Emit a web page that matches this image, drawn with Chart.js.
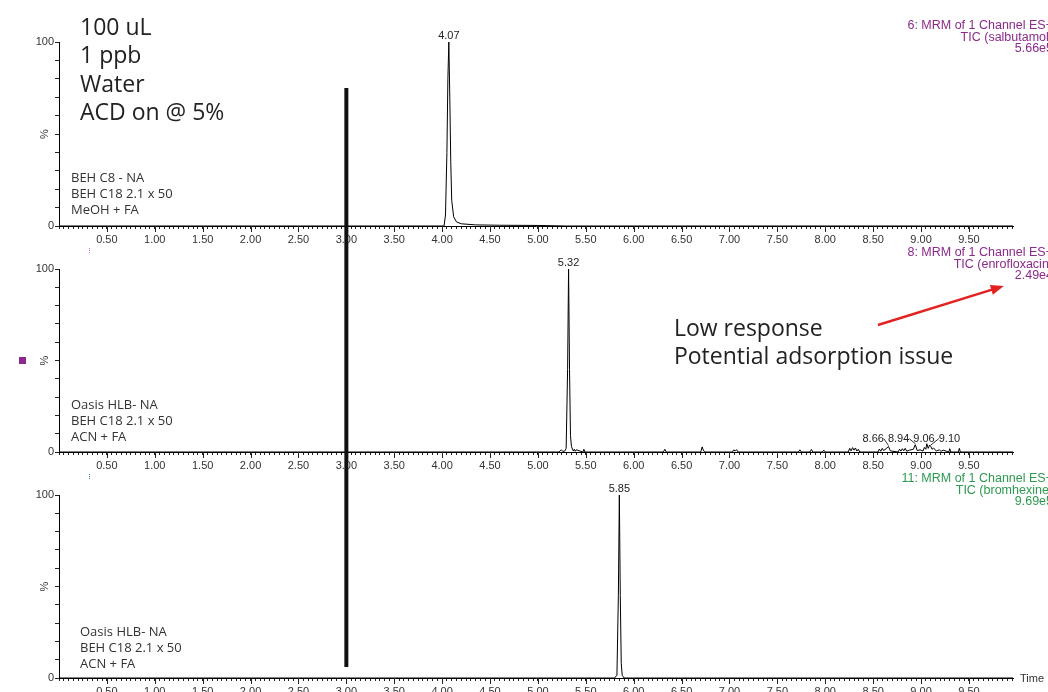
<!DOCTYPE html>
<html>
<head>
<meta charset="utf-8">
<script src="https://cdn.jsdelivr.net/npm/chart.js@4"></script>
<style>
  body { margin: 0; background: #fff; }
  #wrap { position: relative; width: 1048px; height: 692px; overflow: hidden; }
  #wrap canvas { position: absolute; left: 0; top: 0; }
</style>
</head>
<body>
<div id="wrap">
  <canvas id="panel1" width="1048" height="720"></canvas>
  <canvas id="panel2" width="1048" height="720"></canvas>
  <canvas id="panel3" width="1048" height="720"></canvas>
</div>
<script>
// retention time (min) / relative intensity (%)
const timeMax = 9.96
const markerTime = 3.0

const times1 = [0, 4.02, 4.035, 4.05, 4.06, 4.07, 4.08, 4.09, 4.10, 4.12, 4.15, 4.20, 4.35, 4.60, 5.00, 5.30, 9.96]
const signal1 = [0, 0, 6, 40, 80, 100, 70, 35, 14, 5, 2.2, 1.2, 0.6, 0.4, 0.3, 0, 0]

const times2 = [
  0, 5.22, 5.245, 5.26, 5.28, 5.295, 5.31, 5.32, 5.33, 5.34,
  5.35, 5.37, 5.38, 5.39, 5.40, 5.47, 5.48, 5.49, 6.31, 6.325,
  6.34, 6.70, 6.715, 6.725, 6.74, 7.03, 7.045, 7.06, 7.075, 7.09,
  7.72, 7.735, 7.75, 7.84, 7.855, 7.87, 7.97, 7.985, 8.00, 8.24,
  8.255, 8.27, 8.285, 8.30, 8.315, 8.33, 8.345, 8.36, 8.55, 8.565,
  8.58, 8.595, 8.61, 8.635, 8.66, 8.68, 8.76, 8.775, 8.79, 8.805,
  8.82, 8.835, 8.85, 8.88, 8.92, 8.94, 8.96, 8.99, 9.02, 9.035,
  9.05, 9.06, 9.075, 9.09, 9.10, 9.115, 9.13, 9.16, 9.19, 9.21,
  9.23, 9.29, 9.30, 9.31, 9.39, 9.40, 9.41, 9.96
]
const signal2 = [
  0, 0, 1.2, 0.3, 0.5, 2, 45, 100, 45, 9,
  3, 0.5, 1.5, 0.4, 1.2, 0, 1.5, 0, 0, 1.5,
  0, 0, 2.8, 1.2, 0, 0, 1.2, 0.5, 1.3, 0,
  0, 1.2, 0, 0, 1.4, 0, 0, 1.0, 0, 0,
  2.0, 0.6, 2.4, 1.0, 2.2, 0.5, 1.5, 0, 0, 1.6,
  0.4, 2.0, 0.8, 1.8, 3.0, 0.6, 0, 1.5, 0.5, 1.8,
  0.7, 2.0, 0.4, 1.0, 1.5, 4.0, 0.8, 1.2, 0.5, 2.5,
  1.5, 4.5, 2.0, 3.8, 3.2, 1.5, 2.2, 0.5, 1.2, 0.3,
  1.0, 0, 1.8, 0, 0, 2.0, 0, 0
]

const times3 = [0, 5.80, 5.825, 5.84, 5.85, 5.86, 5.87, 5.88, 5.90, 9.96]
const signal3 = [0, 0, 1.5, 45, 100, 45, 8, 1.5, 0, 0]

const peaks1 = [4.07]
const peaks2 = [5.32]
const noisePeaks2 = [8.66, 8.94, 9.06, 9.10]
const peaks3 = [5.85]

const channel1 = ['6: MRM of 1 Channel ES+', 'TIC (salbutamol)', '5.66e5']
const channel2 = ['8: MRM of 1 Channel ES+', 'TIC (enrofloxacin)', '2.49e4']
const channel3 = ['11: MRM of 1 Channel ES+', 'TIC (bromhexine)', '9.69e5']

const column1 = ['BEH C8 - NA', 'BEH C18 2.1 x 50', 'MeOH + FA']
const column2 = ['Oasis HLB- NA', 'BEH C18 2.1 x 50', 'ACN + FA']
const column3 = ['Oasis HLB- NA', 'BEH C18 2.1 x 50', 'ACN + FA']

const sampleNotes = ['100 uL', '1 ppb', 'Water', 'ACD on @ 5%']
const issueNotes = ['Low response', 'Potential adsorption issue']

const purple = '#8c2a8c'
const green = '#2e9a50'
const axisFont = '"Liberation Sans", Arial, sans-serif'
const noteFont = '"Open Sans", sans-serif'

const panels = []

const valueAt = (times, signal, t) => signal[times.indexOf(t)]

const drawLine = (ctx, x1, y1, x2, y2) => {
    ctx.beginPath()
    ctx.moveTo(x1, y1)
    ctx.lineTo(x2, y2)
    ctx.stroke()
}

const decor = (cfg) => ({
    id: 'decor',
    afterDraw(chart) {
        const { ctx, chartArea } = chart
        const x = chart.scales.x
        const y = chart.scales.y
        ctx.save()

        // longer ticks at every labelled half minute
        ctx.strokeStyle = '#222'
        ctx.lineWidth = 1
        for (let k = 1; k * 0.5 < timeMax; k++) {
            const px = Math.round(x.getPixelForValue(k * 0.5)) + 0.5
            drawLine(ctx, px, chartArea.bottom, px, chartArea.bottom + 6)
        }

        // rotated % on the y axis
        ctx.save()
        ctx.translate(chartArea.left - 14, y.getPixelForValue(50))
        ctx.rotate(-Math.PI / 2)
        ctx.fillStyle = '#333'
        ctx.font = '11px ' + axisFont
        ctx.textAlign = 'center'
        ctx.textBaseline = 'middle'
        ctx.fillText('%', 0, 0)
        ctx.restore()

        // apex labels
        ctx.fillStyle = '#222'
        ctx.font = '11px ' + axisFont
        ctx.textAlign = 'center'
        ctx.textBaseline = 'alphabetic'
        cfg.peaks.forEach(t => {
            const v = valueAt(cfg.times, cfg.signal, t)
            ctx.fillText(t.toFixed(2), x.getPixelForValue(t), y.getPixelForValue(v) - 3)
        })

        // channel header, right aligned and running off the page
        ctx.fillStyle = cfg.color
        ctx.font = '12.5px ' + axisFont
        ctx.textAlign = 'right'
        ctx.textBaseline = 'middle'
        cfg.channel.forEach((s, i) => {
            ctx.fillText(s, chartArea.right + 40, chartArea.top - 16 + i * 11.5)
        })

        // column / mobile phase
        ctx.fillStyle = '#333'
        ctx.font = '13px ' + noteFont
        ctx.textAlign = 'left'
        cfg.column.forEach((s, i) => {
            ctx.fillText(s, chartArea.left + cfg.columnIndent, chartArea.bottom - cfg.columnLift + i * 16)
        })

        // small channel mark under the axis
        if (cfg.markColor) {
            ctx.strokeStyle = cfg.markColor
            ctx.setLineDash([1, 1])
            const px = Math.round(x.getPixelForValue(0.31)) + 0.5
            drawLine(ctx, px, chartArea.bottom + 22, px, chartArea.bottom + 28)
            ctx.setLineDash([])
        }

        if (cfg.extra) cfg.extra(chart)
        ctx.restore()
    }
})

const makePanel = (canvasId, cfg) => {
    const ctx = document.getElementById(canvasId).getContext('2d')
    const chart = new Chart(ctx, {
        type: 'line',
        data: {
            datasets: [{
                data: cfg.times.map((t, i) => ({ x: t, y: cfg.signal[i] })),
                borderColor: '#000',
                borderWidth: 1,
                pointRadius: 0,
                tension: 0,
                clip: false
            }]
        },
        options: {
            responsive: false,
            animation: false,
            events: [],
            layout: { padding: { left: 19, right: 35, top: cfg.top, bottom: cfg.bottom } },
            plugins: { legend: { display: false }, tooltip: { enabled: false } },
            scales: {
                x: {
                    type: 'linear',
                    min: 0,
                    max: timeMax,
                    afterFit: s => { s.height = 25 },
                    afterBuildTicks: s => {
                        const list = []
                        for (let k = 0; k * 0.05 <= timeMax; k++) list.push({ value: +(k * 0.05).toFixed(2) })
                        s.ticks = list
                    },
                    grid: { drawOnChartArea: false, tickLength: 3, color: '#222' },
                    border: { color: '#000' },
                    ticks: {
                        autoSkip: false,
                        maxRotation: 0,
                        padding: 4,
                        color: '#333',
                        font: { family: axisFont, size: 11 },
                        callback: v => (v > 0 && Math.abs(v * 2 - Math.round(v * 2)) < 1e-6) ? v.toFixed(2) : ''
                    }
                },
                y: {
                    min: 0,
                    max: 100,
                    afterFit: s => { s.width = 40 },
                    grid: { drawOnChartArea: false, tickLength: 4, color: '#222' },
                    border: { color: '#000' },
                    ticks: {
                        stepSize: 10,
                        padding: 1,
                        color: '#333',
                        font: { family: axisFont, size: 11 },
                        callback: v => (v === 100 || v === 0) ? String(v) : ''
                    }
                }
            }
        },
        plugins: [decor(cfg)]
    })
    panels.push(chart)
    return chart
}

makePanel('panel1', {
    times: times1, signal: signal1, peaks: peaks1,
    channel: channel1, color: purple, column: column1,
    columnIndent: 12, columnLift: 48, markColor: '#d070c8',
    top: 42, bottom: 469,
    extra: (chart) => {
        const { ctx, chartArea } = chart
        ctx.fillStyle = '#222'
        ctx.font = '23px ' + noteFont
        ctx.textAlign = 'left'
        ctx.textBaseline = 'middle'
        sampleNotes.forEach((s, i) => {
            ctx.fillText(s, chartArea.left + 21, 28 + i * 28.5)
        })
    }
})

makePanel('panel2', {
    times: times2, signal: signal2, peaks: peaks2,
    channel: channel2, color: purple, column: column2,
    columnIndent: 12, columnLift: 47, markColor: green,
    top: 269, bottom: 243,
    extra: (chart) => {
        const { ctx, chartArea } = chart
        const x = chart.scales.x
        const y = chart.scales.y

        // noise labels: start over their peaks, then push apart until none overlap
        ctx.font = '11px ' + axisFont
        ctx.fillStyle = '#222'
        ctx.strokeStyle = '#333'
        ctx.lineWidth = 1
        ctx.textAlign = 'center'
        ctx.textBaseline = 'alphabetic'
        const items = noisePeaks2.map(t => ({
            label: t.toFixed(2),
            px: x.getPixelForValue(t),
            py: y.getPixelForValue(valueAt(times2, signal2, t)),
            w: ctx.measureText(t.toFixed(2)).width
        }))
        items.forEach(it => { it.cx = it.px - 4 })
        const gap = 4
        for (let pass = 0; pass < 40; pass++) {
            for (let i = 1; i < items.length; i++) {
                const a = items[i - 1], b = items[i]
                const need = (a.w + b.w) / 2 + gap - (b.cx - a.cx)
                if (need > 0) { a.cx -= need / 2; b.cx += need / 2 }
            }
        }
        const base = Math.min(...items.map(it => it.py)) - 2
        items.forEach(it => {
            ctx.fillText(it.label, it.cx, base)
            if (Math.abs(it.cx - it.px) > 4) {
                const ex = it.cx < it.px ? it.cx + it.w / 2 : it.cx - it.w / 2
                drawLine(ctx, ex, base - 3, it.px, it.py - 1)
            }
        })

        // purple channel swatch
        ctx.fillStyle = purple
        ctx.fillRect(chartArea.left - 40, y.getPixelForValue(50) - 3.5, 7, 7)

        // annotation text
        ctx.fillStyle = '#222'
        ctx.font = '23px ' + noteFont
        ctx.textAlign = 'left'
        ctx.textBaseline = 'middle'
        const tx = x.getPixelForValue(6.42)
        const ty = y.getPixelForValue(67)
        issueNotes.forEach((s, i) => ctx.fillText(s, tx, ty + i * 28))

        // red arrow to the header
        const ax1 = x.getPixelForValue(8.55), ay1 = y.getPixelForValue(69.4)
        const ax2 = x.getPixelForValue(9.864), ay2 = y.getPixelForValue(90.7)
        const ang = Math.atan2(ay2 - ay1, ax2 - ax1)
        ctx.strokeStyle = '#e32222'
        ctx.fillStyle = '#e32222'
        ctx.lineWidth = 2.5
        drawLine(ctx, ax1, ay1, ax2 - 8 * Math.cos(ang), ay2 - 8 * Math.sin(ang))
        ctx.beginPath()
        ctx.moveTo(ax2, ay2)
        ctx.lineTo(ax2 - 13 * Math.cos(ang) + 5 * Math.sin(ang), ay2 - 13 * Math.sin(ang) - 5 * Math.cos(ang))
        ctx.lineTo(ax2 - 13 * Math.cos(ang) - 5 * Math.sin(ang), ay2 - 13 * Math.sin(ang) + 5 * Math.cos(ang))
        ctx.closePath()
        ctx.fill()
    }
})

makePanel('panel3', {
    times: times3, signal: signal3, peaks: peaks3,
    channel: channel3, color: green, column: column3,
    columnIndent: 21, columnLift: 46, markColor: null,
    top: 495, bottom: 17,
    extra: (chart) => {
        const { ctx, chartArea } = chart
        const x = chart.scales.x
        const y = chart.scales.y

        ctx.fillStyle = '#333'
        ctx.font = '11px ' + axisFont
        ctx.textAlign = 'left'
        ctx.textBaseline = 'middle'
        ctx.fillText('Time', chartArea.right + 7, chartArea.bottom + 1)

        // thick marker at 3.00 min running through all three traces
        const top = panels[0].scales.y.getPixelForValue(75)
        const px = x.getPixelForValue(markerTime)
        ctx.strokeStyle = '#111'
        ctx.lineWidth = 4
        drawLine(ctx, px, top, px, y.getPixelForValue(6))
    }
})
</script>
</body>
</html>
